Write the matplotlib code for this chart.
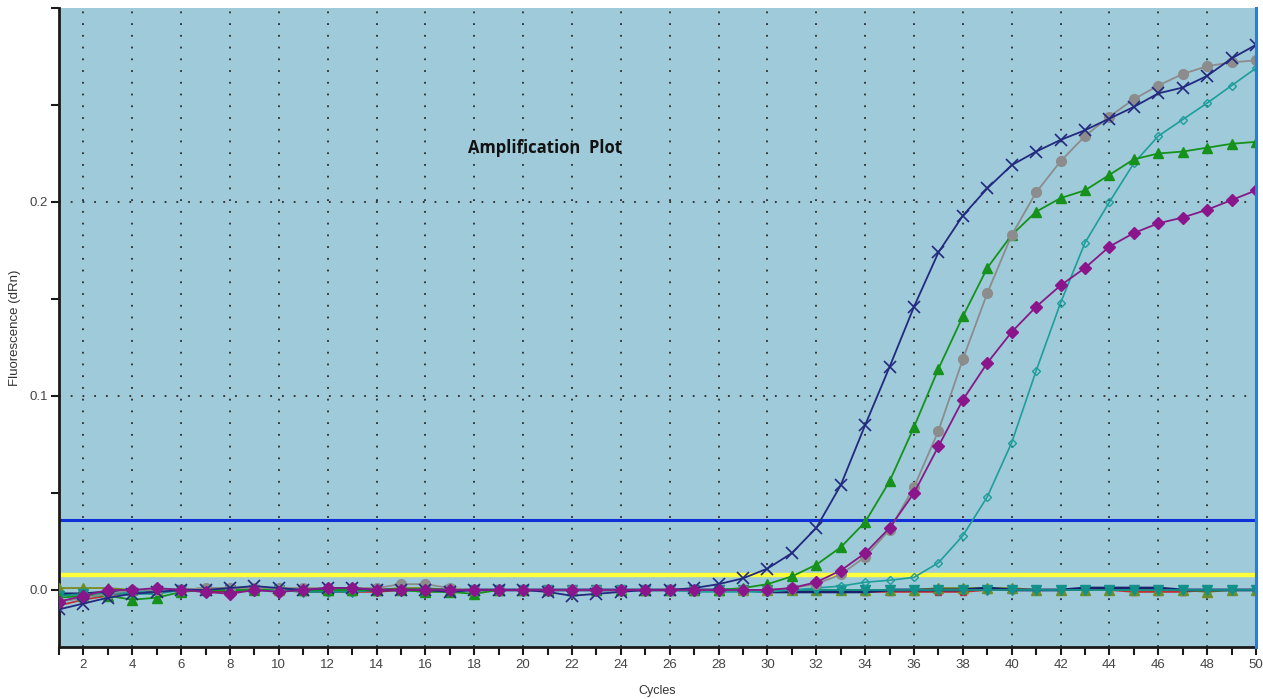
import numpy as np
import matplotlib
matplotlib.use("Agg")
import matplotlib.pyplot as plt
from matplotlib.ticker import MultipleLocator

cycles = list(range(1, 51))

navy_x = [-0.010, -0.007, -0.004, -0.002, -0.001, 0.000, 0.000, 0.001, 0.002, 0.001,
          0.000, 0.001, 0.001, 0.000, 0.000, 0.000, -0.001, 0.000, 0.000, 0.000,
          -0.001, -0.003, -0.002, -0.001, 0.000, 0.000, 0.001, 0.003, 0.006, 0.011,
          0.019, 0.032, 0.054, 0.085, 0.115, 0.146, 0.174, 0.193, 0.207, 0.219,
          0.226, 0.232, 0.237, 0.243, 0.249, 0.256, 0.259, 0.265, 0.274, 0.281]

gray_o = [-0.006, -0.004, -0.002, 0.000, 0.000, 0.000, 0.001, 0.001, 0.001, 0.001,
          0.001, 0.001, 0.001, 0.001, 0.003, 0.003, 0.001, 0.000, 0.000, 0.000,
          0.000, 0.000, 0.000, 0.000, 0.000, 0.000, 0.000, 0.000, 0.000, 0.000,
          0.001, 0.003, 0.008, 0.017, 0.031, 0.053, 0.082, 0.119, 0.153, 0.183,
          0.205, 0.221, 0.234, 0.244, 0.253, 0.260, 0.266, 0.270, 0.272, 0.273]

green_tri = [-0.004, -0.003, -0.003, -0.005, -0.004, -0.001, 0.000, 0.000, 0.000, 0.001,
             0.000, 0.000, 0.000, 0.000, 0.000, -0.001, -0.001, -0.002, 0.000, 0.000,
             0.000, 0.000, 0.000, 0.000, 0.000, 0.000, 0.000, 0.000, 0.001, 0.003,
             0.007, 0.013, 0.022, 0.035, 0.056, 0.084, 0.114, 0.141, 0.166, 0.183,
             0.195, 0.202, 0.206, 0.214, 0.222, 0.225, 0.226, 0.228, 0.230, 0.231]

magenta_d = [-0.006, -0.003, 0.000, 0.000, 0.001, 0.000, -0.001, -0.002, 0.000, -0.001,
             0.000, 0.001, 0.001, 0.000, 0.000, 0.000, 0.000, 0.000, 0.000, 0.000,
             0.000, 0.000, 0.000, 0.000, 0.000, 0.000, 0.000, 0.000, 0.000, 0.000,
             0.001, 0.004, 0.010, 0.019, 0.032, 0.050, 0.074, 0.098, 0.117, 0.133,
             0.146, 0.157, 0.166, 0.177, 0.184, 0.189, 0.192, 0.196, 0.201, 0.206]

teal_d = [-0.006, -0.004, -0.002, -0.001, 0.000, 0.000, 0.000, 0.000, 0.000, 0.000,
          0.000, 0.000, 0.000, 0.000, 0.000, 0.000, 0.000, 0.000, 0.000, 0.000,
          0.000, 0.000, 0.000, 0.000, 0.000, 0.000, -0.001, -0.001, -0.001, -0.001,
          0.000, 0.001, 0.002, 0.004, 0.005, 0.0065, 0.014, 0.028, 0.048, 0.076,
          0.113, 0.148, 0.179, 0.200, 0.220, 0.234, 0.2425, 0.251, 0.260, 0.269]

# flat (no amplification) baseline traces
ntc_teal = [-0.003, -0.002, -0.002, -0.002, -0.002, 0.000, 0.000, 0.000, 0.000, 0.000,
            -0.001, -0.001, -0.001, 0.000, 0.000, -0.001, 0.000, 0.000, 0.000, 0.000,
            0.000, 0.000, 0.000, 0.000, 0.000, 0.000, 0.000, 0.000, 0.000, 0.000,
            0.000, 0.000, 0.000, 0.000, 0.000, 0.000, 0.000, 0.000, 0.000, 0.000,
            0.000, 0.000, 0.000, 0.000, 0.000, 0.000, 0.000, 0.000, 0.000, 0.000]
ntc_olive = [0.001, 0.001, 0.001, 0.000, 0.000, 0.000, 0.001, 0.001, 0.001, 0.000,
             0.000, 0.000, 0.000, 0.000, 0.001, 0.001, 0.000, 0.000, 0.000, 0.000,
             0.000, 0.000, 0.000, 0.000, 0.000, 0.000, 0.000, 0.000, 0.000, 0.000,
             0.000, 0.000, 0.000, 0.000, 0.000, 0.000, 0.001, 0.001, 0.001, 0.001,
             0.000, 0.000, 0.000, 0.000, 0.000, 0.000, 0.000, -0.001, 0.000, 0.000]
ntc_red = [-0.008, -0.005, -0.003, -0.001, 0.000, 0.000, -0.001, -0.001, 0.000, 0.000,
           -0.001, -0.001, -0.001, -0.001, 0.000, 0.000, 0.000, 0.000, 0.000, 0.000,
           0.000, 0.000, 0.000, 0.000, 0.000, 0.000, 0.000, 0.000, 0.000, 0.000,
           0.000, 0.000, 0.000, -0.001, -0.001, -0.001, -0.001, -0.001, 0.000, 0.000,
           0.000, 0.000, 0.000, 0.000, -0.001, -0.001, -0.001, 0.000, 0.000, 0.000]
ntc_navy = [-0.002, -0.002, -0.001, -0.001, 0.000, 0.000, 0.000, 0.000, 0.000, 0.000,
            0.000, 0.000, 0.000, 0.000, 0.000, 0.000, 0.000, 0.000, 0.000, 0.000,
            0.000, 0.000, 0.000, 0.000, 0.000, 0.000, 0.000, 0.000, 0.000, -0.001,
            -0.001, -0.001, -0.001, -0.001, 0.000, 0.000, 0.000, 0.000, 0.001, 0.000,
            0.000, 0.000, 0.001, 0.001, 0.001, 0.001, 0.000, 0.000, 0.000, 0.000]

threshold_blue = 0.036
threshold_yellow = 0.0077

x_ticks = list(range(2, 51, 2))
y_ticks = [0.0, 0.1, 0.2]
y_ticklabels = ["0.0", "0.1", "0.2"]

fig = plt.figure(figsize=(12.63, 6.99), dpi=100)
ax = fig.add_axes([59 / 1263, 1 - 647 / 699, (1256 - 59) / 1263, (647 - 8) / 699])
ax.set_facecolor("#9ECAD9")

ax.set_xlim(1, 50)
ax.set_ylim(-0.0294, 0.300)

# grid
grid_style = dict(color="#2b2b2b", linewidth=1.3, linestyle=(0, (1, 5.5)), zorder=1)
for xv in x_ticks:
    ax.axvline(xv, **grid_style)
for yv in [0.1, 0.2]:
    ax.axhline(yv, **grid_style)

# thresholds
ax.axhline(threshold_blue, color="#1030D8", linewidth=2.2, zorder=2)
ax.axhline(threshold_yellow, color="#FFFF3A", linewidth=3.2, zorder=2)

# baseline traces
ax.plot(cycles, ntc_red, color="#C0303A", lw=1.3, marker="s", ms=5, mfc="#C0303A", mec="#C0303A", zorder=3)
ax.plot(cycles, ntc_olive, color="#7A8A20", lw=1.3, marker="^", ms=7.5, mfc="#6E8E2A", mec="#6E8E2A", zorder=3)
ax.plot(cycles, ntc_navy, color="#1A2270", lw=2.0, zorder=3)
ax.plot(cycles, ntc_teal, color="#12908A", lw=1.3, marker="v", ms=7.5, mfc="#12908A", mec="#12908A", zorder=3)

# amplification traces
ax.plot(cycles, teal_d, color="#1E9E9A", lw=1.2, marker="D", ms=4.5, mfc="none", mec="#1E9E9A", mew=1.0, zorder=4)
ax.plot(cycles, green_tri, color="#16921C", lw=1.3, marker="^", ms=7, mfc="#16921C", mec="#16921C", zorder=4)
ax.plot(cycles, gray_o, color="#8C8C8C", lw=1.3, marker="o", ms=7, mfc="#8C8C8C", mec="#8C8C8C", zorder=4)
ax.plot(cycles, navy_x, color="#22297E", lw=1.3, marker="x", ms=8, mew=1.2, zorder=5)
ax.plot(cycles, magenta_d, color="#851A86", lw=1.3, marker="D", ms=6, mfc="#8B168C", mec="#8B168C", zorder=5)

# right boundary line
ax.axvline(50, color="#1E7FE6", linewidth=2.2, zorder=6, clip_on=False)

# spines and ticks
for s in ["top", "right"]:
    ax.spines[s].set_visible(False)
for s in ["left", "bottom"]:
    ax.spines[s].set_color("#1a1a1a")
    ax.spines[s].set_linewidth(2.0)

ax.set_xticks(x_ticks)
ax.set_xticklabels([str(v) for v in x_ticks])
ax.xaxis.set_minor_locator(MultipleLocator(1))
ax.set_yticks(y_ticks)
ax.set_yticklabels(y_ticklabels)
ax.yaxis.set_minor_locator(MultipleLocator(0.05))
ax.tick_params(axis="both", which="both", direction="out", color="#1a1a1a", width=1.5)
ax.tick_params(axis="both", which="major", length=6, labelsize=9.5, labelcolor="#444444")
ax.tick_params(axis="both", which="minor", length=6)
ax.tick_params(axis="x", which="major", pad=3)
ax.tick_params(axis="y", which="major", pad=2)
for lbl in ax.get_xticklabels() + ax.get_yticklabels():
    lbl.set_fontfamily("Liberation Sans")

ax.set_xlabel("Cycles", fontsize=9, color="#333333", family="Liberation Sans", labelpad=10)
ax.set_ylabel("Fluorescence (dRn)", fontsize=9.5, color="#333333", family="Liberation Sans", labelpad=6)

ax.text(17.75, 0.228, "Amplification  Plot", fontsize=12, fontweight="bold",
        family="Open Sans", color="#111111", ha="left", va="center", zorder=7)

fig.savefig("out.png", dpi=100, facecolor="white")
